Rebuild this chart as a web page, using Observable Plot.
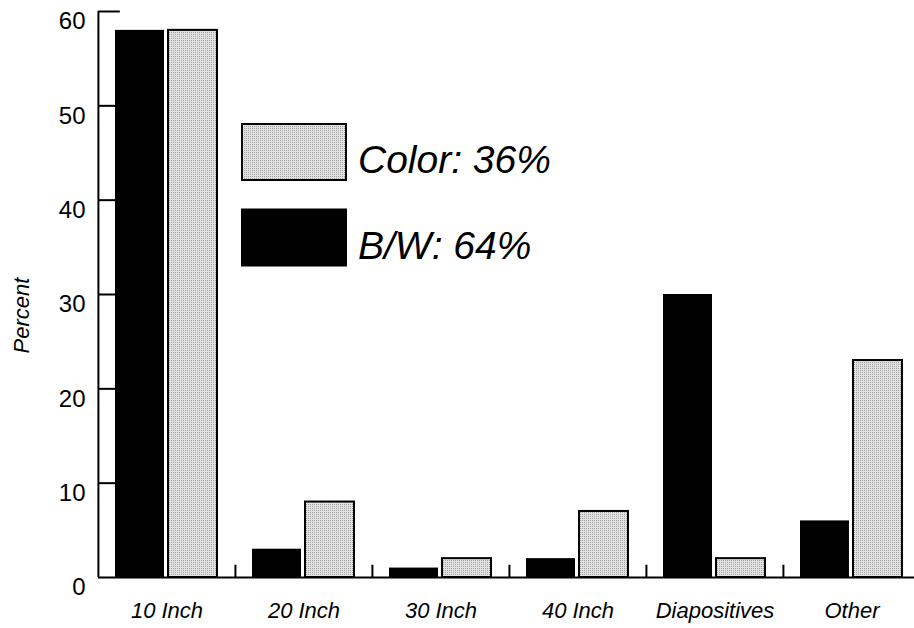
<!DOCTYPE html>
<html><head><meta charset="utf-8">
<script src="https://cdn.jsdelivr.net/npm/d3@7"></script>
<script src="https://cdn.jsdelivr.net/npm/@observablehq/plot@0.6"></script>
<style>body{margin:0;background:#fff} #chart{width:914px;height:628px;overflow:hidden}</style>
</head><body><div id="chart"></div>
<script>
const categories = ["10 Inch", "20 Inch", "30 Inch", "40 Inch", "Diapositives", "Other"];
const series = ["B/W", "Color"];
const bwValues = [58, 3, 1, 2, 30, 6];
const colorValues = [58, 8, 2, 7, 2, 23];
const seriesShares = [64, 36]; // B/W, Color (percent of total)
const yTicks = [0, 10, 20, 30, 40, 50, 60];
const yLabel = "Percent";

const W = 914, H = 628;
const mL = 97, mR = -6, mT = 11, mB = 51;
const fw = (W - mR - mL) / categories.length;
const barW = 50, gap = 4;
const step = barW + gap;
const pInner = gap / step;
const pOuter = (fw / step - 2 + pInner) / 2;
const toBandCenter = pOuter * step + barW / 2;
const sepLen = 1.3;
const tickLen = 22;

const rows = (vals, s) => categories.map((c, i) => ({category: c, series: s, value: vals[i]}));
const bwRows = rows(bwValues, series[0]);
const colRows = rows(colorValues, series[1]);

const font = "'Liberation Sans', Arial, Helvetica, sans-serif";

const plot = Plot.plot({
  width: W, height: H,
  marginLeft: mL, marginRight: mR, marginTop: mT, marginBottom: mB,
  style: {fontFamily: font, fontSize: "22px", background: "transparent", color: "#000"},
  fx: {domain: categories, padding: 0},
  x: {domain: series, paddingInner: pInner, paddingOuter: pOuter, axis: null},
  y: {domain: [0, 60]},
  marks: [
    Plot.tickY(yTicks.slice(1), {y: d => d, fx: () => categories[0], insetRight: fw - tickLen, strokeWidth: 2}),
    Plot.barY(bwRows, {fx: "category", x: "series", y: "value", fill: "#000"}),
    Plot.barY(colRows, {fx: "category", x: "series", y: "value", fill: "url(#stipple)", stroke: "#000", strokeWidth: 2}),
    Plot.ruleY([0], {strokeWidth: 2}),
    Plot.ruleX([categories[0]], {fx: d => d, x: () => series[0], y1: 0, y2: 60, dx: -toBandCenter, strokeWidth: 2}),
    Plot.ruleX(categories.slice(1), {fx: d => d, x: () => series[0], y1: 0, y2: sepLen, dx: -toBandCenter, strokeWidth: 2}),
    Plot.axisY(yTicks, {tickSize: 0, tickPadding: 13, dy: 10, fontSize: 24, label: null}),
    Plot.axisFx({anchor: "bottom", tickSize: 0, tickPadding: 25, fontSize: 22, fontStyle: "italic", label: null}),
    Plot.text([yLabel], {fx: () => categories[0], text: d => d, frameAnchor: "left", textAnchor: "middle", dx: -77, dy: 21, rotate: -90, fontStyle: "italic", fontSize: 22})
  ]
});

const svg = d3.select(plot);
const defs = svg.insert("defs", ":first-child");
const pat = defs.append("pattern").attr("id", "stipple").attr("width", 2).attr("height", 2).attr("patternUnits", "userSpaceOnUse");
pat.append("rect").attr("width", 2).attr("height", 2).attr("fill", "#e2e2e2");
pat.append("rect").attr("width", 1).attr("height", 1).attr("fill", "#a0a0a0");

const legendItems = [
  {name: series[1], share: seriesShares[1], fill: "url(#stipple)"},
  {name: series[0], share: seriesShares[0], fill: "#000"}
];
const lg = svg.append("g").attr("font-family", font).attr("font-style", "italic")
  .attr("font-size", 39).attr("text-anchor", "start");
legendItems.forEach((d, i) => {
  const y0 = 124 + i * 85.5;
  lg.append("rect").attr("x", 242).attr("y", y0).attr("width", 104).attr("height", 56)
    .attr("fill", d.fill).attr("stroke", "#000").attr("stroke-width", 2);
  lg.append("text").attr("x", 358).attr("y", y0 + 49).attr("fill", "#000")
    .attr("text-anchor", "start").text(`${d.name}: ${d.share}%`);
});

document.getElementById("chart").appendChild(plot);
</script>
</body></html>
